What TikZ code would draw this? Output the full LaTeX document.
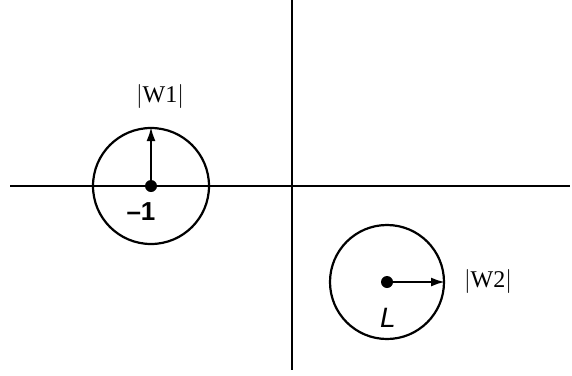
\documentclass[tikz,border=0pt]{standalone}
\usepackage{fontspec}
\setmainfont{Liberation Serif}
\setsansfont{Liberation Sans}
\usetikzlibrary{calc, positioning, arrows.meta}

\tikzset{
  axis/.style={line width=1.1pt},
  circ/.style={line width=1.1pt},
  radius arrow/.style={line width=1.1pt, -{Latex[length=7pt, width=4.5pt]}},
  centre dot/.style={circle, fill, inner sep=0pt, minimum size=6pt},
  point label/.style={font=\sffamily\bfseries\fontsize{13}{15}\selectfont}
}

\begin{document}
\begin{tikzpicture}[x=0.5pt, y=-0.5pt]
\useasboundingbox (0,0) rectangle (572,375);
% Axes
\coordinate (xl) at (10,186);
\coordinate (xr) at (570,186);
\coordinate (yt) at (292,0);
\coordinate (yb) at (292,370);
\draw[axis] (xl) -- (xr);
\draw[axis] (yt) -- (yb);

% Left circle - around -1
\node[centre dot] (m1) at (151,186) {};
\draw[circ] (m1) circle (58);
\coordinate (w1tip) at (151,127);
\draw[radius arrow] (m1.center) -- (w1tip);
\node[point label] (m1lab) at (141,212) {\textendash1};
\node[font=\large] (w1lab) at (160,96) {$|$W1$|$};

% Right circle - around L
\node[centre dot] (L) at (387,282) {};
\draw[circ] (L) circle (57);
\coordinate (w2tip) at (445,282);
\draw[radius arrow] (L.center) -- (w2tip);
\node[point label, font=\sffamily\itshape\fontsize{14}{16}\selectfont] (Llab) at (388,318) {L};
\node[font=\large] (w2lab) at (488,281) {$|$W2$|$};
\end{tikzpicture}
\end{document}
